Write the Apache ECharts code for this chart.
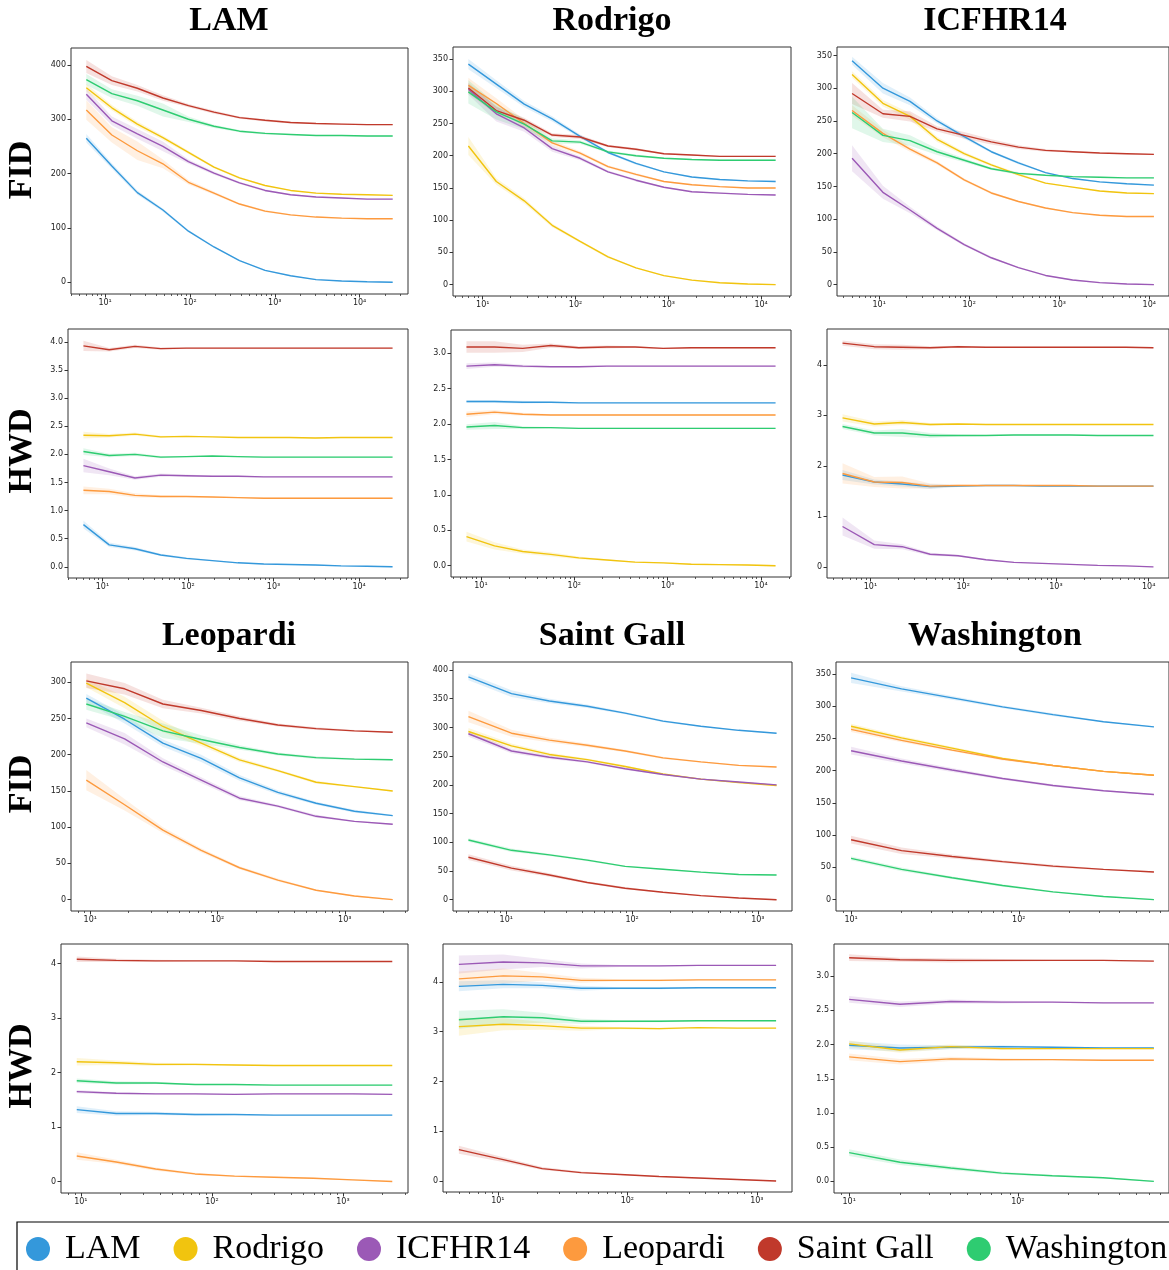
<!DOCTYPE html>
<html><head><meta charset="utf-8">
<script src="https://cdn.jsdelivr.net/npm/echarts@6/dist/echarts.min.js"></script>
<style>html,body{margin:0;padding:0;background:#fff}#c{width:1169px;height:1270px}</style>
</head><body><div id="c"></div>
<script>
const names = ['LAM','Rodrigo','ICFHR14','Leopardi','Saint Gall','Washington'];
const colors = ['#3498db','#f1c40f','#9b59b6','#fd9a3e','#c0392b','#2ecc71'];
const colTitles = ['LAM','Rodrigo','ICFHR14','Leopardi','Saint Gall','Washington'];
const rowLabels = ['FID','HWD','FID','HWD'];

// x values (training-set sizes) per dataset
const xLAM = [6,12,24,48,96,192,384,768,1536,3072,6144,12288,24576];
const xRod = [7,14,28,56,112,224,448,896,1792,3584,7168,14336];
const xICF = [5,11,22,44,88,176,352,704,1408,2816,5632,11264];
const xLeo = [9.3,18.6,37.2,74.4,148.8,297.6,595.2,1190,2381];
const xSG  = [5,11,22,44,88,176,352,704,1408];
const xWash = [10,20,40,80,160,320,640];

// y tick labels
const ytFidLAM = [0,100,200,300,400];
const ytFid350 = [0,50,100,150,200,250,300,350];
const ytFid300 = [0,50,100,150,200,250,300];
const ytFid400 = [0,50,100,150,200,250,300,350,400];
const ytHwd4h = [0,0.5,1,1.5,2,2.5,3,3.5,4];
const ytHwd3h = [0,0.5,1,1.5,2,2.5,3];
const ytHwd4 = [0,1,2,3,4];

// rows in each array follow `names` order: LAM, Rodrigo, ICFHR14, Leopardi, Saint Gall, Washington
const fidLAM = [
 [265,214,165,133,94,65,40,22,12,5,2.5,1,0],
 [358,321,291,266,239,212,192,178,169,164,162,161,160],
 [346,297,273,250,222,201,183,169,161,157,155,153,153],
 [317,271,242,218,184,164,144,131,124,120,118,117,117],
 [397,371,357,339,325,313,303,298,294,292,291,290,290],
 [373,347,334,317,300,287,278,274,272,270,270,269,269]];
const fidLAMBand = [
 [8,5,4,3,2,2,1,1,1,1,1,1,1],
 [7,5,5,4,3,2,2,1,1,1,1,1,1],
 [10,8,9,9,4,3,2,2,1,1,1,1,1],
 [18,14,17,8,4,3,2,2,1,1,1,1,1],
 [12,8,6,5,3,3,2,2,2,1,1,1,1],
 [10,8,9,12,5,3,2,2,1,1,1,1,1]];

const fidRod = [
 [342,311,280,257,230,205,188,175,167,163,161,160],
 [215,160,130,92,67,43,26,14,7,3,1,0],
 [303,265,243,211,196,175,162,151,144,142,140,139],
 [309,281,250,220,204,183,171,160,155,152,150,150],
 [305,270,255,232,229,215,210,203,201,199,199,199],
 [299,268,249,223,221,206,200,196,194,193,193,193]];
const fidRodBand = [
 [8,6,5,4,3,2,2,1,1,1,1,1],
 [14,5,4,3,2,2,1,1,1,1,1,1],
 [8,12,6,5,3,2,2,1,1,1,1,1],
 [12,8,6,4,3,2,2,1,1,1,1,1],
 [8,6,4,3,3,2,2,1,1,1,1,1],
 [18,12,8,4,3,2,2,1,1,1,1,1]];

const fidICF = [
 [342,300,280,250,226,203,186,171,162,157,154,152],
 [321,277,257,222,200,183,168,155,149,143,140,139],
 [193,141,114,86,61,41,26,14,7,3,1,0],
 [266,231,207,186,160,140,127,117,110,106,104,104],
 [292,261,257,238,228,218,210,205,203,201,200,199],
 [263,228,220,203,190,177,170,167,165,164,163,163]];
const fidICFBand = [
 [6,8,6,4,3,2,2,1,1,1,1,1],
 [5,5,5,4,3,2,2,1,1,1,1,1],
 [20,10,5,3,2,2,1,1,1,1,1,1],
 [8,6,4,3,2,2,1,1,1,1,1,1],
 [16,6,8,4,5,4,3,2,1,1,1,1],
 [24,10,8,5,3,2,2,1,1,1,1,1]];

const hwdLAM = [
 [0.75,0.39,0.32,0.21,0.15,0.11,0.07,0.05,0.04,0.03,0.015,0.01,0],
 [2.34,2.33,2.36,2.31,2.32,2.31,2.30,2.30,2.30,2.29,2.30,2.30,2.30],
 [1.80,1.69,1.58,1.63,1.62,1.61,1.61,1.60,1.60,1.60,1.60,1.60,1.60],
 [1.36,1.34,1.27,1.25,1.25,1.24,1.23,1.22,1.22,1.22,1.22,1.22,1.22],
 [3.93,3.86,3.92,3.88,3.89,3.89,3.89,3.89,3.89,3.89,3.89,3.89,3.89],
 [2.05,1.98,2.00,1.95,1.96,1.97,1.96,1.95,1.95,1.95,1.95,1.95,1.95]];
const hwdLAMBand = [
 [0.07,0.04,0.03,0.02,0.02,0.01,0.01,0.01,0.01,0.01,0.01,0.01,0.01],
 [0.06,0.03,0.03,0.02,0.01,0.01,0.01,0.01,0.01,0.01,0.01,0.01,0.01],
 [0.12,0.06,0.03,0.03,0.02,0.01,0.01,0.01,0.01,0.01,0.01,0.01,0.01],
 [0.07,0.05,0.04,0.02,0.01,0.01,0.01,0.01,0.01,0.01,0.01,0.01,0.01],
 [0.09,0.03,0.03,0.02,0.01,0.01,0.01,0.01,0.01,0.01,0.01,0.01,0.01],
 [0.06,0.03,0.03,0.02,0.01,0.01,0.01,0.01,0.01,0.01,0.01,0.01,0.01]];

const hwdRod = [
 [2.32,2.32,2.31,2.31,2.30,2.30,2.30,2.30,2.30,2.30,2.30,2.30],
 [0.41,0.28,0.20,0.16,0.11,0.08,0.05,0.04,0.02,0.015,0.01,0],
 [2.82,2.84,2.82,2.81,2.81,2.82,2.82,2.82,2.82,2.82,2.82,2.82],
 [2.14,2.17,2.14,2.13,2.13,2.13,2.13,2.13,2.13,2.13,2.13,2.13],
 [3.09,3.09,3.07,3.11,3.08,3.09,3.09,3.07,3.08,3.08,3.08,3.08],
 [1.96,1.98,1.95,1.95,1.94,1.94,1.94,1.94,1.94,1.94,1.94,1.94]];
const hwdRodBand = [
 [0.02,0.02,0.02,0.01,0.01,0.01,0.01,0.01,0.01,0.01,0.01,0.01],
 [0.07,0.05,0.03,0.03,0.02,0.01,0.01,0.01,0.01,0.01,0.01,0.01],
 [0.04,0.03,0.02,0.01,0.01,0.01,0.01,0.01,0.01,0.01,0.01,0.01],
 [0.04,0.03,0.02,0.01,0.01,0.01,0.01,0.01,0.01,0.01,0.01,0.01],
 [0.08,0.08,0.05,0.03,0.02,0.02,0.01,0.01,0.01,0.01,0.01,0.01],
 [0.04,0.05,0.02,0.01,0.01,0.01,0.01,0.01,0.01,0.01,0.01,0.01]];

const hwdICF = [
 [1.82,1.68,1.64,1.59,1.60,1.61,1.61,1.60,1.60,1.60,1.60,1.60],
 [2.95,2.83,2.86,2.82,2.83,2.82,2.82,2.82,2.82,2.82,2.82,2.82],
 [0.80,0.44,0.40,0.25,0.22,0.14,0.09,0.07,0.05,0.03,0.02,0],
 [1.85,1.68,1.67,1.60,1.61,1.61,1.61,1.61,1.61,1.60,1.60,1.60],
 [4.43,4.36,4.35,4.34,4.36,4.35,4.35,4.35,4.35,4.35,4.35,4.34],
 [2.78,2.65,2.65,2.60,2.60,2.60,2.61,2.61,2.61,2.60,2.60,2.60]];
const hwdICFBand = [
 [0.10,0.05,0.05,0.05,0.02,0.01,0.01,0.01,0.01,0.01,0.01,0.01],
 [0.07,0.05,0.05,0.03,0.02,0.01,0.01,0.01,0.01,0.01,0.01,0.01],
 [0.18,0.08,0.05,0.03,0.02,0.01,0.01,0.01,0.01,0.01,0.01,0.01],
 [0.20,0.10,0.12,0.05,0.02,0.01,0.01,0.01,0.01,0.01,0.01,0.01],
 [0.05,0.05,0.05,0.03,0.02,0.01,0.01,0.01,0.01,0.01,0.01,0.01],
 [0.05,0.05,0.08,0.05,0.02,0.01,0.01,0.01,0.01,0.01,0.01,0.01]];

const fidLeo = [
 [278,249,216,195,168,148,133,122,116],
 [299,272,239,216,193,178,162,156,150],
 [244,222,190,165,140,129,115,108,104],
 [165,131,96,68,44,27,13,5,0],
 [302,291,270,261,250,241,236,233,231],
 [270,253,233,221,210,201,196,194,193]];
const fidLeoBand = [
 [6,6,5,5,4,3,2,2,1],
 [6,8,8,4,3,2,2,1,1],
 [6,8,5,4,3,2,2,1,1],
 [14,8,4,3,2,2,1,1,1],
 [10,8,6,4,3,2,2,1,1],
 [8,6,10,6,3,2,2,1,1]];

const fidSG = [
 [388,359,346,337,325,311,302,295,290],
 [293,268,253,244,232,219,210,204,199],
 [289,259,248,240,228,218,210,205,200],
 [319,290,278,269,259,247,240,234,231],
 [74,55,43,30,20,13,7,3,0],
 [104,86,78,69,58,53,48,44,43]];
const fidSGBand = [
 [6,6,4,3,2,2,1,1,1],
 [6,4,3,2,2,1,1,1,1],
 [5,4,3,2,2,1,1,1,1],
 [10,6,4,3,2,2,1,1,1],
 [5,4,3,2,2,1,1,1,1],
 [3,3,2,2,1,1,1,1,1]];

const fidWash = [
 [344,327,313,299,287,276,268],
 [269,251,235,219,208,199,193],
 [231,215,201,188,177,169,163],
 [264,247,232,218,208,199,193],
 [93,76,67,59,52,47,43],
 [64,47,34,22,12,5,0]];
const fidWashBand = [
 [8,4,3,2,2,1,1],
 [4,3,2,2,1,1,1],
 [6,4,3,2,2,1,1],
 [4,3,2,2,1,1,1],
 [6,5,3,2,2,1,1],
 [3,3,2,2,1,1,1]];

const hwdLeo = [
 [1.32,1.25,1.25,1.23,1.23,1.22,1.22,1.22,1.22],
 [2.20,2.18,2.15,2.15,2.14,2.13,2.13,2.13,2.13],
 [1.65,1.62,1.61,1.61,1.60,1.61,1.61,1.61,1.60],
 [0.47,0.36,0.23,0.14,0.10,0.08,0.06,0.03,0],
 [4.08,4.06,4.05,4.05,4.05,4.04,4.04,4.04,4.04],
 [1.85,1.81,1.81,1.78,1.78,1.77,1.77,1.77,1.77]];
const hwdLeoBand = [
 [0.06,0.04,0.03,0.02,0.01,0.01,0.01,0.01,0.01],
 [0.07,0.04,0.03,0.02,0.01,0.01,0.01,0.01,0.01],
 [0.03,0.02,0.01,0.01,0.01,0.01,0.01,0.01,0.01],
 [0.07,0.04,0.03,0.02,0.01,0.01,0.01,0.01,0.01],
 [0.05,0.03,0.02,0.01,0.01,0.01,0.01,0.01,0.01],
 [0.04,0.03,0.02,0.01,0.01,0.01,0.01,0.01,0.01]];

const hwdSG = [
 [3.91,3.95,3.93,3.87,3.87,3.87,3.88,3.88,3.88],
 [3.10,3.15,3.12,3.07,3.07,3.06,3.08,3.07,3.07],
 [4.35,4.40,4.38,4.32,4.32,4.32,4.33,4.33,4.33],
 [4.06,4.12,4.10,4.03,4.03,4.03,4.04,4.04,4.04],
 [0.63,0.43,0.25,0.17,0.13,0.09,0.06,0.03,0],
 [3.24,3.30,3.28,3.21,3.21,3.21,3.22,3.22,3.22]];
const hwdSGBand = [
 [0.10,0.08,0.06,0.05,0.02,0.02,0.01,0.01,0.01],
 [0.18,0.12,0.08,0.05,0.02,0.02,0.01,0.01,0.01],
 [0.18,0.15,0.08,0.05,0.02,0.02,0.01,0.01,0.01],
 [0.15,0.15,0.08,0.05,0.02,0.02,0.01,0.01,0.01],
 [0.08,0.05,0.03,0.02,0.01,0.01,0.01,0.01,0.01],
 [0.18,0.15,0.10,0.05,0.02,0.02,0.01,0.01,0.01]];

const hwdWash = [
 [1.99,1.95,1.96,1.97,1.96,1.95,1.95],
 [2.01,1.92,1.97,1.94,1.94,1.94,1.94],
 [2.66,2.59,2.63,2.62,2.62,2.61,2.61],
 [1.82,1.75,1.79,1.78,1.78,1.77,1.77],
 [3.27,3.24,3.23,3.23,3.23,3.23,3.22],
 [0.42,0.28,0.195,0.12,0.083,0.054,0]];
const hwdWashBand = [
 [0.06,0.05,0.03,0.02,0.01,0.01,0.01],
 [0.05,0.04,0.03,0.02,0.01,0.01,0.01],
 [0.05,0.04,0.03,0.02,0.01,0.01,0.01],
 [0.05,0.04,0.03,0.02,0.01,0.01,0.01],
 [0.05,0.03,0.03,0.02,0.01,0.01,0.01],
 [0.05,0.04,0.03,0.02,0.01,0.01,0.01]];

// ---- layout (positions / ranges) ----
const panels = [
 {x:xLAM, v:fidLAM, b:fidLAMBand, yt:ytFidLAM, dec:0, box:[71,48,408,294], yr:[-21.5,431], xr:[3.96,37240]},
 {x:xRod, v:fidRod, b:fidRodBand, yt:ytFid350, dec:0, box:[453,47,791,296], yr:[-17.6,368.6], xr:[4.78,20990]},
 {x:xICF, v:fidICF, b:fidICFBand, yt:ytFid350, dec:0, box:[837,47,1173,296], yr:[-17.4,363], xr:[3.4,16570]},
 {x:xLAM, v:hwdLAM, b:hwdLAMBand, yt:ytHwd4h, dec:1, box:[68,329,408,578], yr:[-0.2,4.23], xr:[3.96,37240]},
 {x:xRod, v:hwdRod, b:hwdRodBand, yt:ytHwd3h, dec:1, box:[451,330,791,577], yr:[-0.16,3.33], xr:[4.78,20990]},
 {x:xICF, v:hwdICF, b:hwdICFBand, yt:ytHwd4, dec:0, box:[827,329,1173,578], yr:[-0.22,4.71], xr:[3.4,16570]},
 {x:xLeo, v:fidLeo, b:fidLeoBand, yt:ytFid300, dec:0, box:[71,662,408,911], yr:[-15.7,328], xr:[7.05,3140]},
 {x:xSG, v:fidSG, b:fidSGBand, yt:ytFid400, dec:0, box:[453,662,792,911], yr:[-19.7,414], xr:[3.77,1868]},
 {x:xWash, v:fidWash, b:fidWashBand, yt:ytFid350, dec:0, box:[836,662,1171,911], yr:[-17.6,368.6], xr:[8.13,787]},
 {x:xLeo, v:hwdLeo, b:hwdLeoBand, yt:ytHwd4, dec:0, box:[61,944,408,1193], yr:[-0.21,4.36], xr:[7.05,3140]},
 {x:xSG, v:hwdSG, b:hwdSGBand, yt:ytHwd4, dec:0, box:[443,944,792,1192], yr:[-0.22,4.76], xr:[3.77,1868]},
 {x:xWash, v:hwdWash, b:hwdWashBand, yt:ytHwd3h, dec:1, box:[834,944,1171,1193], yr:[-0.17,3.47], xr:[8.13,787]}
];

const SUP = {'0':'⁰','1':'¹','2':'²','3':'³','4':'⁴','5':'⁵','-':'⁻'};
function supLabel(v){ const e = Math.round(Math.log10(v)); return '10' + String(e).split('').map(c=>SUP[c]).join(''); }
function majorsIn(r){ const out=[]; for(let k=-1;k<8;k++){ const v=Math.pow(10,k); if(v>=r[0]&&v<=r[1]) out.push(v);} return out; }
function minorsIn(r){ const out=[]; for(let k=-1;k<8;k++){ for(let m=2;m<=9;m++){ const v=m*Math.pow(10,k); if(v>=r[0]&&v<=r[1]) out.push(v);} } return out; }

const labelFont = {fontFamily:'DejaVu Sans', fontSize:8, color:'#222'};
const grid=[], xAxis=[], yAxis=[], series=[];

function bandSeries(i, xs, vals, bands, color){
  // one polygon through the library's coordinate system: upper edge forward, lower edge back
  const data = xs.map((x,j)=>[x, vals[j]-bands[j], vals[j]+bands[j]]);
  return {type:'custom', xAxisIndex:2*i, yAxisIndex:i, silent:true, z:1, clip:true,
    data: [[xs[0], vals[0]]], encode:{x:0, y:1},
    renderItem: function(params, api){
      const upper = data.map(d=>api.coord([d[0], d[2]]));
      const lower = data.map(d=>api.coord([d[0], d[1]])).reverse();
      return {type:'polygon', shape:{points: upper.concat(lower)},
        style:{fill: color, opacity: 0.15, stroke: null}};
    }};
}

panels.forEach((p,i)=>{
  grid.push({left:p.box[0], top:p.box[1], width:p.box[2]-p.box[0], height:p.box[3]-p.box[1],
    show:true, borderColor:'#333', borderWidth:1, backgroundColor:'transparent'});
  const maj = majorsIn(p.xr), mnr = minorsIn(p.xr);
  xAxis.push({type:'log', gridIndex:i, position:'bottom', min:p.xr[0], max:p.xr[1],
    axisLine:{show:false, onZero:false}, splitLine:{show:false}, minorTick:{show:false},
    axisTick:{show:true, customValues:maj, length:3.5, lineStyle:{color:'#333', width:1}},
    axisLabel:{show:true, customValues:maj, formatter:v=>supLabel(v), margin:5, ...labelFont}});
  xAxis.push({type:'log', gridIndex:i, position:'bottom', min:p.xr[0], max:p.xr[1],
    axisLine:{show:false, onZero:false}, splitLine:{show:false},
    axisTick:{show:true, customValues:mnr, length:2, lineStyle:{color:'#333', width:0.8}},
    axisLabel:{show:false}});
  yAxis.push({type:'value', gridIndex:i, position:'left', min:p.yr[0], max:p.yr[1],
    axisLine:{show:false, onZero:false}, splitLine:{show:false},
    axisTick:{show:true, customValues:p.yt, length:3.5, lineStyle:{color:'#333', width:1}},
    axisLabel:{show:true, customValues:p.yt, formatter:v=>Number(v).toFixed(p.dec), margin:5, ...labelFont}});
  names.forEach((n,k)=>{
    series.push(bandSeries(i, p.x, p.v[k], p.b[k], colors[k]));
  });
  names.forEach((n,k)=>{
    series.push({type:'line', name:n, xAxisIndex:2*i, yAxisIndex:i,
      data:p.v[k].map((v,j)=>[p.x[j], v]), symbol:'none', silent:true,
      lineStyle:{color:colors[k], width:1.4}, itemStyle:{color:colors[k]}, z:2, animation:false});
  });
});

const titleFont = 'bold 34px "Liberation Serif", "Times New Roman", serif';
const graphic = [];
const titlePos = [[229,21],[612,21],[995,21],[229,636],[612,636],[995,636]];
colTitles.forEach((t,i)=>graphic.push({type:'text', x:titlePos[i][0], y:titlePos[i][1],
  style:{text:t, font:titleFont, fill:'#000', align:'center', verticalAlign:'middle'}}));
const rowPos = [170,451,784,1066];
rowLabels.forEach((t,i)=>graphic.push({type:'text', x:22, y:rowPos[i], rotation:Math.PI/2,
  style:{text:t, font:titleFont, fill:'#000', align:'center', verticalAlign:'middle'}}));
graphic.push({type:'rect', shape:{x:17, y:1222, width:1200, height:100},
  style:{fill:'none', stroke:'#000', lineWidth:1.2}, silent:true});

const chart = echarts.init(document.getElementById('c'), null, {renderer:'canvas'});
chart.setOption({
  animation:false,
  backgroundColor:'#fff',
  grid, xAxis, yAxis, series, graphic,
  legend:{data:names, left:26, top:1232, padding:0, icon:'circle', itemWidth:24, itemHeight:24,
    itemGap:33, selectedMode:false, itemStyle:{borderWidth:0},
    textStyle:{fontFamily:'Liberation Serif', fontSize:34, color:'#000', padding:[0,0,0,10]}}
});
</script></body></html>
